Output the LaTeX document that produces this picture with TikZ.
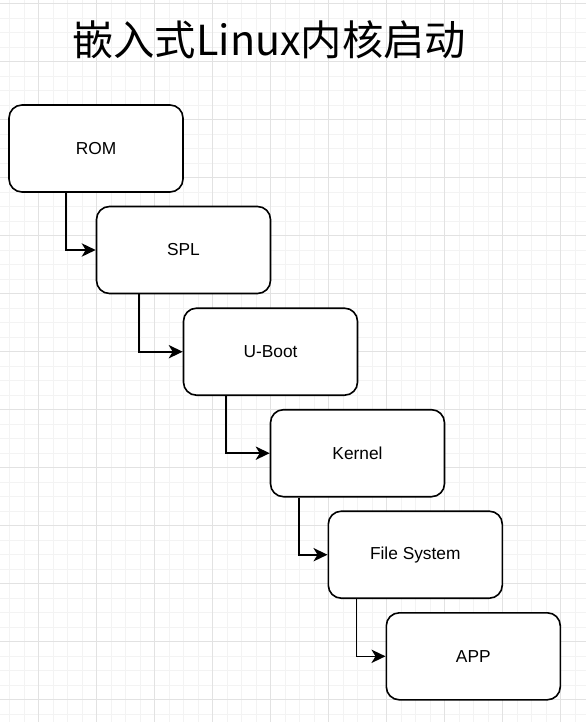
\documentclass[tikz,border=0pt]{standalone}
\usepackage{fontspec}
\setmainfont{Liberation Sans}
\newfontfamily\cjk{Noto Sans CJK SC}
\usetikzlibrary{calc}
\usetikzlibrary{arrows.meta}
\usepackage{xcolor}
\definecolor{gridminor}{HTML}{F3F3F3}
\definecolor{gridmajor}{HTML}{E2E2E2}
\tikzset{
  stage/.style={draw=black, line width=1.2pt, rounded corners=9.75pt, fill=white,
    minimum width=130.5pt, minimum height=65.25pt, inner sep=0pt,
    font=\fontsize{13}{15}\selectfont},
  link/.style={black, line width=1.2pt, -{Stealth[length=10.5pt, width=10pt, inset=3pt]}},
}

\begin{document}
\begin{tikzpicture}[x=0.75pt, y=-0.75pt]
\useasboundingbox (0,0) rectangle (586,722);
\fill[white] (0,0) rectangle (586,722);
% background grid
\foreach \i in {0,...,39} {
\draw[gridminor, line width=0.75pt] ({9.7+14.5*\i},0) --++(0,722);
}
\foreach \i in {0,...,49} {
\draw[gridminor, line width=0.75pt] (0,{3.5+14.5*\i}) --++(586,0);
}
\foreach \i in {0,...,9} {
\draw[gridmajor, line width=0.75pt] ({38.7+58*\i},0) --++(0,722);
}
\foreach \i in {0,...,12} {
\draw[gridmajor, line width=0.75pt] (0,{3.5+58*\i}) --++(586,0);
}
% title
\node[anchor=base west, inner sep=0, font=\cjk\fontsize{31}{36}\selectfont] (title) at (72,55) {嵌入式Linux内核启动};
% boot stages
\node[stage] (rom) at (96,148.5) {ROM};
\node[stage] (spl) at (183.5,250) {SPL};
\node[stage] (uboot) at (270.5,351.7) {U-Boot};
\node[stage] (kernel) at (357.5,453.2) {Kernel};
\node[stage] (fs) at (415.3,554.7) {File System};
\node[stage] (app) at (473.3,656.3) {APP};
\foreach \a/\b/\d in {rom/spl/58, spl/uboot/43.5, uboot/kernel/43.5, kernel/fs/29, fs/app/29} {
\draw[link] ($(\a.south west)+(\d,0)$) |- (\b.west);
}
\end{tikzpicture}
\end{document}
